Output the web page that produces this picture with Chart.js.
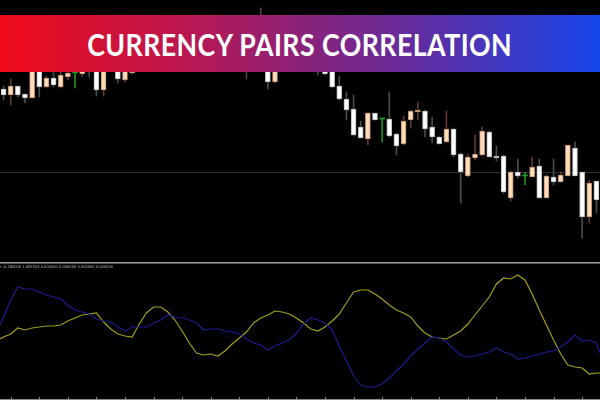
<!DOCTYPE html>
<html>
<head>
<meta charset="utf-8">
<script src="https://cdn.jsdelivr.net/npm/chart.js@4.4.0/dist/chart.umd.min.js"></script>
<style>
  html, body { margin: 0; padding: 0; background: #000; }
  #wrap { position: relative; width: 600px; height: 400px; overflow: hidden; background: #000; }
  #top { position: absolute; left: 0; top: 0; }
  #sep { position: absolute; left: 0; top: 262px; width: 600px; height: 1px; background: #9c9c9c; border-bottom: 1px solid #555; }
  #bottom { position: absolute; left: 0; top: 264px; }
  #baseline { position: absolute; left: 0; top: 399px; width: 600px; height: 1px; background: #8a8a8a; }
  #banner {
    position: absolute; left: 0; top: 15px; width: 600px; height: 57px; z-index: 5;
    background: linear-gradient(90deg, #ef0a17 0%, #c0164a 28%, #8c2278 50%, #5a2fa8 73%, #1646ea 100%);
    display: flex; align-items: center; justify-content: center;
  }
  #banner span {
    color: #fff; font-family: Lato, "Open Sans", sans-serif; font-weight: 700; font-size: 30px;
    letter-spacing: 0.5px; white-space: nowrap; display: inline-block; margin-top: 1px;
  }
  #info {
    position: absolute; left: 0; top: 265px; font-family: "DejaVu Sans", sans-serif; font-size: 8px;
    color: #b4b4b4; white-space: nowrap; transform-origin: 0 0;
  }
</style>
</head>
<body>
<div id="wrap">
  <canvas id="top" width="600" height="262"></canvas>
  <div id="sep"></div>
  <canvas id="bottom" width="600" height="136"></canvas>
  <div id="baseline"></div>
  <div id="info">r -0.280000 1.459323 0.000000 0.000000 0.000000 0.000000</div>
  <div id="banner"><span id="title">CURRENCY PAIRS CORRELATION</span></div>
</div>
<script>
// Prix OHLC (84 barres)
const opens = [1.1111,1.1105,1.1114,1.1106,1.1102,1.1130,1.1113,1.1122,1.1113,1.1123,
  1.1127,1.1126,1.1138,1.1140,1.1110,1.1150,1.1145,1.1120,1.1127,1.1140,
  1.1150,1.1158,1.1152,1.1160,1.1165,1.1156,1.1162,1.1170,1.1164,1.1155,
  1.1160,1.1150,1.1142,1.1148,1.1140,1.1145,1.1155,1.1160,1.1118,1.1138,
  1.1145,1.1152,1.1148,1.1155,1.1145,1.1138,1.1135,1.1114,1.1101,1.1091,
  1.1073,1.1061,1.1087,1.1081,1.1081,1.1066,1.1056,1.1080,1.1088,1.1089,
  1.1073,1.1063,1.1058,1.1071,1.1046,1.1024,1.1042,1.1045,1.1068,1.1044,
  1.1044,1.1002,1.1028,1.1024,1.1023,1.1034,1.1002,1.1023,1.1018,1.1024,
  1.1052,1.1028,1.0983,1.1019];
const highs = [1.1114,1.1121,1.1114,1.1106,1.1132,1.1134,1.1124,1.1129,1.1128,1.1130,
  1.1134,1.1134,1.1145,1.1145,1.1148,1.1160,1.1150,1.1145,1.1142,1.1155,
  1.1162,1.1164,1.1165,1.1170,1.1170,1.1167,1.1174,1.1175,1.1168,1.1165,
  1.1164,1.1155,1.1152,1.1152,1.1150,1.1160,1.1192,1.1164,1.1142,1.1150,
  1.1156,1.1158,1.1160,1.1158,1.1150,1.1142,1.1138,1.1124,1.1108,1.1105,
  1.1079,1.1088,1.1087,1.1081,1.1108,1.1067,1.1084,1.1090,1.1098,1.1090,
  1.1083,1.1064,1.1089,1.1072,1.1047,1.1046,1.1065,1.1073,1.1069,1.1054,
  1.1045,1.1029,1.1041,1.1028,1.1043,1.1041,1.1025,1.1041,1.1028,1.1055,
  1.1058,1.1028,1.1020,1.1019];
const lows = [1.1100,1.1095,1.1103,1.1097,1.1102,1.1103,1.1112,1.1113,1.1112,1.1120,
  1.1112,1.1123,1.1123,1.1104,1.1104,1.1140,1.1117,1.1118,1.1126,1.1134,
  1.1145,1.1148,1.1148,1.1155,1.1152,1.1150,1.1158,1.1160,1.1150,1.1150,
  1.1145,1.1138,1.1136,1.1134,1.1121,1.1140,1.1150,1.1111,1.1117,1.1132,
  1.1140,1.1142,1.1142,1.1140,1.1125,1.1125,1.1112,1.1100,1.1080,1.1064,
  1.1062,1.1055,1.1080,1.1058,1.1063,1.1045,1.1055,1.1072,1.1080,1.1063,
  1.1057,1.1056,1.1057,1.1043,1.0997,1.1023,1.1040,1.1044,1.1043,1.1039,
  1.1007,1.0999,1.1022,1.1015,1.1023,1.1002,1.1002,1.1015,1.1018,1.1024,
  1.1024,1.0962,1.0977,1.0987];
const closes = [1.1105,1.1114,1.1105,1.1102,1.1130,1.1113,1.1122,1.1115,1.1125,1.1127,
  1.1127,1.1130,1.1132,1.1110,1.1142,1.1155,1.1121,1.1140,1.1138,1.1150,
  1.1158,1.1152,1.1160,1.1165,1.1156,1.1162,1.1170,1.1164,1.1155,1.1160,
  1.1150,1.1142,1.1148,1.1140,1.1145,1.1155,1.1162,1.1118,1.1138,1.1145,
  1.1152,1.1148,1.1155,1.1145,1.1138,1.1126,1.1113,1.1101,1.1090,1.1065,
  1.1062,1.1087,1.1080,1.1081,1.1064,1.1054,1.1079,1.1089,1.1090,1.1071,
  1.1063,1.1056,1.1071,1.1045,1.1028,1.1043,1.1046,1.1069,1.1043,1.1042,
  1.1008,1.1028,1.1024,1.1024,1.1033,1.1002,1.1024,1.1018,1.1025,1.1055,
  1.1024,1.0983,1.1017,1.1000];
const levelPrice = 1.1028;

// Corrélation (position en barres, -0.5 et 83.5 = bords)
const corrX = [-0.5,0,1,2,3,4,5,6,7,8,9,10,11,12,13,14,15,16,17,18,19,20,21,22,23,24,25,26,27,28,29,
  30,31,32,33,34,35,36,37,38,39,40,41,42,43,44,45,46,47,48,49,50,51,52,53,54,55,56,57,58,59,
  60,61,62,63,64,65,66,67,68,69,70,71,72,73,74,75,76,77,78,79,80,81,82,83,83.5];
const corrBlue = [0.105,0.225,0.48,0.675,0.645,0.645,0.6,0.555,0.525,0.495,0.405,
  0.33,0.3,0.27,0.195,0.165,0.15,0.075,0.015,0.075,0.075,
  0.075,0.135,0.18,0.255,0.225,0.21,0.18,0.135,0.03,0.045,
  0.045,0.015,0,-0.03,-0.105,-0.165,-0.195,-0.27,-0.21,-0.165,
  -0.12,-0.015,0.12,0.21,0.18,0.135,0.03,-0.21,-0.435,-0.66,
  -0.795,-0.825,-0.825,-0.78,-0.69,-0.585,-0.48,-0.36,-0.255,-0.165,
  -0.075,-0.09,-0.15,-0.255,-0.345,-0.375,-0.36,-0.33,-0.3,-0.24,
  -0.3,-0.33,-0.405,-0.39,-0.36,-0.33,-0.3,-0.285,-0.225,-0.15,
  -0.045,-0.135,-0.12,-0.165,-0.315];
const corrYellow = [-0.105,-0.075,-0.03,0.06,0.03,0.06,0.075,0.09,0.09,0.105,0.165,
  0.21,0.255,0.27,0.285,0.15,0.045,-0.03,-0.06,-0.075,0.12,
  0.285,0.375,0.375,0.3,0.18,0.015,-0.165,-0.315,-0.345,-0.33,
  -0.36,-0.285,-0.18,-0.09,0,0.135,0.21,0.255,0.315,0.3,
  0.27,0.21,0.135,0.045,0.015,0.075,0.165,0.27,0.435,0.6,
  0.63,0.63,0.57,0.495,0.405,0.33,0.285,0.225,0.09,-0.015,
  -0.075,-0.09,-0.105,-0.045,0.015,0.12,0.255,0.39,0.525,0.72,
  0.81,0.795,0.855,0.78,0.57,0.33,0.105,-0.12,-0.33,-0.495,
  -0.525,-0.54,-0.63,-0.615,-0.615];

const barLabels = opens.map((_, i) => i);
const isDoji = i => opens[i] === closes[i];
const isUp = i => closes[i] > opens[i];

const bodyFill = opens.map((o, i) => isDoji(i) ? '#1fa01f' : (isUp(i) ? '#ffdcbc' : '#ffffff'));
const bodyEdge = opens.map((o, i) => isDoji(i) ? '#1fa01f' : (isUp(i) ? '#b98e6e' : '#b8b8b8'));
const wickColor = opens.map((o, i) => isDoji(i) ? '#1f8f1f' : (isUp(i) ? '#5c3a36' : '#4c4c4c'));

// ligne horizontale + repères du bas
const levelLine = {
  id: 'levelLine',
  beforeDatasetsDraw(chart) {
    const y = Math.round(chart.scales.y.getPixelForValue(levelPrice)) + 0.5;
    const ctx = chart.ctx;
    ctx.save();
    ctx.strokeStyle = '#2e3237';
    ctx.lineWidth = 1;
    ctx.beginPath();
    ctx.moveTo(0, y);
    ctx.lineTo(chart.width, y);
    ctx.stroke();
    ctx.restore();
  }
};
const bottomTicks = {
  id: 'bottomTicks',
  afterDatasetsDraw(chart) {
    const ctx = chart.ctx;
    ctx.save();
    ctx.strokeStyle = '#8a8a8a';
    for (let b = 1; b < 84; b += 4) {
      const x = Math.round(chart.scales.x.getPixelForValue(b)) + 0.5;
      ctx.beginPath();
      ctx.moveTo(x, chart.height - 3);
      ctx.lineTo(x, chart.height);
      ctx.stroke();
    }
    ctx.restore();
  }
};

new Chart(document.getElementById('top').getContext('2d'), {
  type: 'bar',
  data: {
    labels: barLabels,
    datasets: [
      {
        data: lows.map((l, i) => [l, highs[i]]),
        backgroundColor: wickColor,
        barThickness: 1,
        grouped: false,
        order: 2
      },
      {
        data: opens.map((o, i) => [o, closes[i]]),
        backgroundColor: bodyFill,
        borderColor: bodyEdge,
        borderWidth: opens.map((o, i) => isDoji(i) ? 0 : 1),
        borderSkipped: false,
        minBarLength: 1,
        barThickness: 5,
        grouped: false,
        order: 1
      }
    ]
  },
  options: {
    responsive: false,
    animation: false,
    layout: { padding: 0 },
    plugins: { legend: { display: false }, tooltip: { enabled: false } },
    scales: {
      x: { display: false, offset: true },
      y: { display: false, min: 1.0938, max: 1.1200 }
    }
  },
  plugins: [levelLine]
});

new Chart(document.getElementById('bottom').getContext('2d'), {
  type: 'line',
  data: {
    datasets: [
      {
        data: corrX.map((x, i) => ({ x: x, y: corrBlue[i] })),
        borderColor: '#1c1c8e',
        borderWidth: 1.2,
        pointRadius: 0,
        tension: 0
      },
      {
        data: corrX.map((x, i) => ({ x: x, y: corrYellow[i] })),
        borderColor: '#a0a016',
        borderWidth: 1.2,
        pointRadius: 0,
        tension: 0
      }
    ]
  },
  options: {
    responsive: false,
    animation: false,
    layout: { padding: 0 },
    plugins: { legend: { display: false }, tooltip: { enabled: false } },
    scales: {
      x: { type: 'linear', display: false, min: -0.5, max: 83.5 },
      y: { display: false, min: -1.02, max: 1.02 }
    }
  },
  plugins: [bottomTicks]
});

// ajuster la largeur du titre et de la ligne d'info
const t = document.getElementById('title');
t.style.transform = 'scaleX(' + (425 / t.getBoundingClientRect().width) + ')';
const info = document.getElementById('info');
info.style.transform = 'scale(' + (113 / info.getBoundingClientRect().width) + ', 0.45)';
</script>
</body>
</html>
